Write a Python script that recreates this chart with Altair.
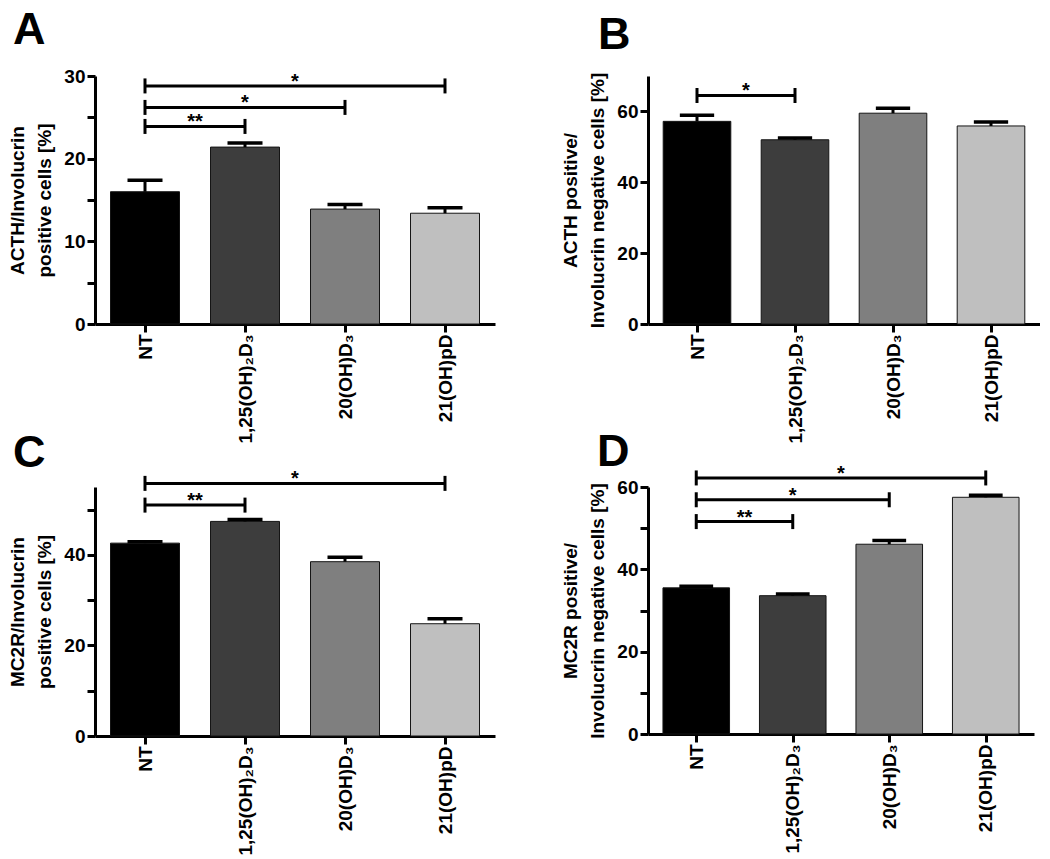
import altair as alt
import pandas as pd

FONT = "Liberation Sans"

groups = ["NT", "1,25(OH)₂D₃", "20(OH)D₃", "21(OH)pD"]
bar_colors = ["#000000", "#3d3d3d", "#7f7f7f", "#bfbfbf"]

# Panel A
a_mean = [16.0, 21.4, 13.9, 13.4]
a_err = [1.4, 0.5, 0.55, 0.65]
a_title = ["ACTH/Involucrin", "positive cells [%]"]
a_brackets = [(0, 1, 23.9, "**"), (0, 2, 26.2, "*"), (0, 3, 28.8, "*")]

# Panel B
b_mean = [57.2, 52.0, 59.5, 55.9]
b_err = [1.7, 0.5, 1.4, 1.1]
b_title = ["ACTH positive/", "Involucrin negative cells [%]"]
b_brackets = [(0, 1, 64.5, "*")]

# Panel C
c_mean = [42.6, 47.4, 38.5, 24.8]
c_err = [0.3, 0.4, 1.0, 1.1]
c_title = ["MC2R/Involucrin", "positive cells [%]"]
c_brackets = [(0, 1, 51.0, "**"), (0, 3, 55.8, "*")]

# Panel D
d_mean = [35.5, 33.6, 46.1, 57.5]
d_err = [0.4, 0.4, 0.9, 0.5]
d_title = ["MC2R positive/", "Involucrin negative cells [%]"]
d_brackets = [(0, 1, 51.6, "**"), (0, 2, 56.9, "*"), (0, 3, 62.2, "*")]

label_expr = "[" + ",".join("'" + g + "'" for g in groups) + "][datum.value]"

BAR_HALF = 0.345
CAP_HALF = 0.175
END_TICK_PX = 7.5


def panel(letter, mean, err, ytitle, ymax, ticks, label_step, brackets,
          width, height, title_dx, title_offset):
    df = pd.DataFrame({
        "idx": list(range(len(groups))),
        "group": groups,
        "mean": mean,
        "upper": [m + e for m, e in zip(mean, err)],
    })
    df["left"] = df["idx"] - BAR_HALF
    df["right"] = df["idx"] + BAR_HALF
    df["capl"] = df["idx"] - CAP_HALF
    df["capr"] = df["idx"] + CAP_HALF

    d = END_TICK_PX * ymax / height
    br = pd.DataFrame({
        "i1": [b[0] for b in brackets],
        "i2": [b[1] for b in brackets],
        "y": [b[2] for b in brackets],
        "label": [b[3] for b in brackets],
    })
    br["mid"] = (br["i1"] + br["i2"]) / 2
    ends = pd.DataFrame({
        "x": list(br["i1"]) + list(br["i2"]),
        "lo": list(br["y"] - d) * 2,
        "hi": list(br["y"] + d) * 2,
    })

    xscale = alt.Scale(domain=[-0.5, len(groups) - 0.5], nice=False, zero=False)
    yscale = alt.Scale(domain=[0, ymax], nice=False, zero=True)
    xaxis = alt.Axis(values=list(range(len(groups))), labelExpr=label_expr,
                     labelAngle=-90, title=None, labelFlush=False,
                     labelOverlap=False)
    yaxis = alt.Axis(values=ticks,
                     labelExpr="datum.value %% %d == 0 ? datum.label : ''" % label_step,
                     title=ytitle, labelOverlap=False, labelFlush=False)

    base = alt.Chart(df)
    bars = base.mark_bar(stroke="#151515", strokeWidth=1).encode(
        x=alt.X("left:Q", scale=xscale, axis=xaxis),
        x2="right:Q",
        y=alt.Y("mean:Q", scale=yscale, axis=yaxis),
        y2=alt.datum(0),
        color=alt.Color("group:N", scale=alt.Scale(domain=groups, range=bar_colors),
                        legend=None),
    )
    errline = base.mark_rule(strokeWidth=3, color="black").encode(
        x="idx:Q", y="mean:Q", y2="upper:Q")
    errcap = base.mark_rule(strokeWidth=3.5, color="black").encode(
        x="capl:Q", x2="capr:Q", y="upper:Q")

    bb = alt.Chart(br)
    hrule = bb.mark_rule(strokeWidth=3, color="black").encode(
        x="i1:Q", x2="i2:Q", y="y:Q")
    stars = bb.mark_text(font=FONT, fontSize=20, fontWeight="bold", color="black",
                         baseline="alphabetic", dy=2).encode(
        x="mid:Q", y="y:Q", text="label:N")
    vt = alt.Chart(ends).mark_rule(strokeWidth=3, color="black").encode(
        x="x:Q", y="lo:Q", y2="hi:Q")

    return alt.layer(bars, errline, errcap, hrule, vt, stars).properties(
        width=width, height=height,
        title=alt.TitleParams(text=letter, anchor="start", frame="group",
                              dx=title_dx, offset=title_offset, font=FONT,
                              fontSize=45, fontWeight="bold", color="black"),
    )


pa = panel("A", a_mean, a_err, a_title, 30, [0, 5, 10, 15, 20, 25, 30], 10,
           a_brackets, 400, 248, -82, 14)
pb = panel("B", b_mean, b_err, b_title, 70, [0, 10, 20, 30, 40, 50, 60, 70], 20,
           b_brackets, 392, 248, -50, 14)
pc = panel("C", c_mean, c_err, c_title, 55, [0, 10, 20, 30, 40, 50], 20,
           c_brackets, 400, 249, -82, -7)
pd_ = panel("D", d_mean, d_err, d_title, 60, [0, 10, 20, 30, 40, 50, 60], 20,
            d_brackets, 386, 247, -51, -11)

chart = alt.concat(
    pa, pb, pc, pd_, columns=2,
    spacing={"row": 163, "column": 153},
    bounds="flush",
).properties(
    padding={"left": 0, "top": 0, "right": 0, "bottom": 0}
).configure_axis(
    domainColor="black", domainWidth=3, tickColor="black", tickWidth=3,
    tickSize=8, labelFont=FONT, labelFontSize=19, labelFontWeight="bold",
    labelColor="black", titleFont=FONT, titleFontSize=19,
    titleFontWeight="bold", titleColor="black", grid=False, labelPadding=2,
    titlePadding=9, titleLineHeight=27,
).configure_view(stroke=None)

chart.save("out.html", embed_options={"renderer": "svg", "actions": False})
